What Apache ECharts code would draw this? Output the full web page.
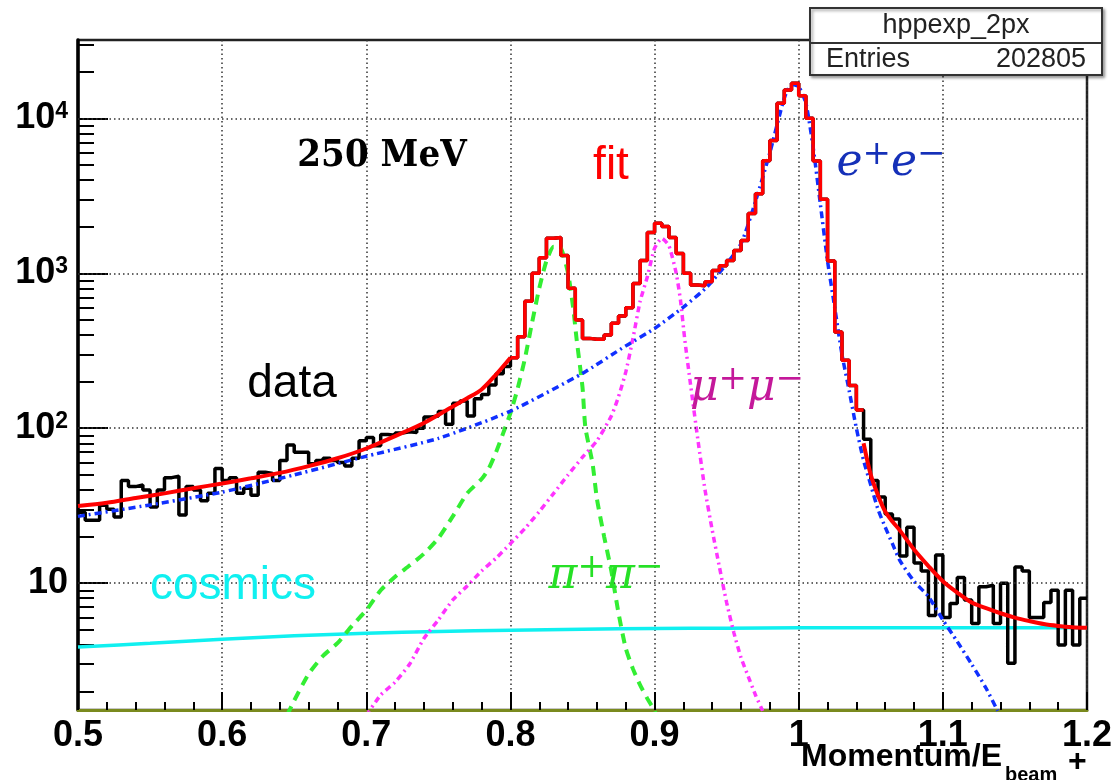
<!DOCTYPE html>
<html>
<head>
<meta charset="utf-8">
<script src="https://cdn.jsdelivr.net/npm/echarts@6/dist/echarts.min.js"></script>
<style>
  html, body { margin: 0; padding: 0; background: #fff; }
  #chart { width: 1118px; height: 780px; }
</style>
</head>
<body>
<div id="chart"></div>
<script>
// histogram: 140 bins of 0.005 from 0.5 to 1.2
const binStart = 0.5;
const binWidth = 0.005;
const counts = [
  28.7, 25.5, 25.5, 31.8, 30, 26.7, 46, 42, 43, 40, 31, 40, 48, 49, 27.5, 42,
  40, 34, 38, 55, 46, 48, 38, 41, 37, 52, 51, 46, 62, 78, 70, 70,
  59, 62, 64, 62, 60, 57, 64, 83, 87, 77, 91, 90, 93, 95, 94, 100,
  118, 120, 128, 106, 145, 150, 120, 155, 165, 190, 225, 250,
  285, 390, 660, 1000, 1260, 1680, 1700, 1300, 800, 500, 380, 375, 375, 400, 475, 530,
  600, 860, 1210, 1830, 2100, 2000, 1700, 1340, 1000, 840, 830, 880, 1040, 1120, 1210, 1400,
  1630, 2430, 3260, 5330, 7200, 12500, 15200, 16800, 14000, 10000, 5300, 3000, 1200, 418, 275, 189,
  131, 85,
  46, 36, 28, 26, 15, 23, 13.5, 12, 6.2, 15.2, 6.0, 7.4, 10.9, 7.8, 5.5, 9.5,
  9.7, 5.5, 10, 3.05, 12.7, 12, 6.0, 6.0, 7.5, 9.0, 4.0, 9.0, 4.0, 8.0
];

// fit: smooth where the analytic parts dominate, binned template in the peak region
const fitLeft = [
  [0.50, 31.5], [0.52, 33], [0.54, 35.5], [0.56, 38], [0.58, 41], [0.60, 44],
  [0.62, 47.5], [0.64, 51.5], [0.66, 57], [0.68, 64], [0.70, 74], [0.72, 89],
  [0.74, 108], [0.76, 138], [0.77, 156], [0.78, 178], [0.79, 222], [0.80, 285]
];
const fitPeakFirstBin = 60;
const fitPeakLastBin = 108;
const fitRight = [
  [1.045, 80], [1.05, 50], [1.055, 37], [1.06, 29], [1.065, 25], [1.07, 22],
  [1.08, 16.5], [1.09, 12.9], [1.10, 10.3], [1.11, 8.7], [1.12, 7.5], [1.13, 6.9],
  [1.14, 6.4], [1.15, 6.0], [1.16, 5.7], [1.17, 5.45], [1.18, 5.3], [1.19, 5.2], [1.20, 5.15]
];

const eeCurve = [
  [0.50, 27], [0.55, 32], [0.60, 38.7], [0.65, 50], [0.70, 66], [0.75, 86],
  [0.80, 129], [0.85, 226], [0.88, 340], [0.90, 440], [0.92, 605], [0.936, 810],
  [0.95, 1150], [0.96, 1550], [0.97, 2900], [0.98, 6000], [0.99, 13500], [0.995, 16500],
  [1.0, 16000], [1.005, 12500], [1.01, 6500], [1.015, 2800], [1.02, 1200], [1.025, 600],
  [1.03, 300], [1.035, 175], [1.04, 100], [1.045, 62], [1.05, 43], [1.055, 30],
  [1.06, 23], [1.065, 18], [1.07, 14.1], [1.08, 10.3], [1.09, 8.2], [1.10, 5.8],
  [1.11, 4.2], [1.12, 3.0], [1.13, 2.1], [1.138, 1.5]
];
const pipiCurve = [
  [0.645, 1.4], [0.65, 1.75], [0.66, 2.6], [0.67, 3.4], [0.68, 4.1], [0.69, 5.3],
  [0.70, 6.7], [0.71, 9.0], [0.72, 11], [0.73, 13], [0.74, 15.5], [0.75, 19.5],
  [0.76, 27], [0.77, 38], [0.78, 47], [0.785, 55], [0.79, 70], [0.795, 93],
  [0.80, 125], [0.805, 180], [0.81, 280], [0.815, 480], [0.82, 800], [0.825, 1200],
  [0.83, 1480], [0.835, 1450], [0.84, 1000], [0.8435, 600], [0.846, 370], [0.85, 184],
  [0.852, 101], [0.857, 59], [0.86, 35], [0.865, 20], [0.87, 12], [0.875, 6.4],
  [0.88, 3.8], [0.885, 2.8], [0.89, 2.2], [0.895, 1.8], [0.90, 1.5], [0.902, 1.3]
];
const mumuCurve = [
  [0.70, 1.4], [0.71, 1.9], [0.72, 2.3], [0.73, 3.0], [0.74, 4.4], [0.75, 5.8],
  [0.76, 7.8], [0.77, 9.6], [0.78, 12], [0.79, 14.5], [0.80, 18], [0.81, 22.5],
  [0.82, 29], [0.83, 38], [0.84, 50], [0.85, 65], [0.86, 83], [0.87, 120],
  [0.875, 160], [0.88, 230], [0.885, 380], [0.89, 660], [0.895, 950], [0.90, 1450],
  [0.905, 1680], [0.91, 1500], [0.915, 1000], [0.918, 667], [0.921, 370], [0.925, 190],
  [0.93, 85], [0.935, 40], [0.94, 22], [0.945, 12.7], [0.95, 7.5], [0.955, 4.8],
  [0.96, 3.3], [0.965, 2.5], [0.97, 1.9], [0.975, 1.5]
];
const cosmicsCurve = [
  [0.50, 3.87], [0.55, 4.1], [0.60, 4.35], [0.65, 4.58], [0.70, 4.75], [0.75, 4.88],
  [0.80, 4.97], [0.85, 5.05], [0.90, 5.1], [0.95, 5.13], [1.00, 5.15], [1.10, 5.15], [1.20, 5.15]
];

const yMin = 1.52;
const yMax = 32000;
const yMajor = [10, 100, 1000, 10000];
const yMinor = [2, 3, 4, 5, 6, 7, 8, 9, 20, 30, 40, 50, 60, 70, 80, 90,
  200, 300, 400, 500, 600, 700, 800, 900, 2000, 3000, 4000, 5000, 6000, 7000, 8000, 9000,
  20000, 30000];

const lg = v => Math.log10(v);
const toLog = pts => pts.map(p => [p[0], lg(p[1])]);

// histogram outline: left bin edges, closed at the right edge
const histPoints = (vals, first) => {
  const pts = vals.map((v, i) => [+(binStart + (first + i) * binWidth).toFixed(3), lg(v)]);
  pts.push([+(binStart + (first + vals.length) * binWidth).toFixed(3), lg(vals[vals.length - 1])]);
  return pts;
};

const FONT = "'Liberation Sans', Arial, sans-serif";
const MATH = "'DejaVu Serif', serif";

// italic particle label with superscript charges
const particleLabel = (x, y, glyph, color) => ({
  type: 'text', z: 50, x: x, y: y,
  style: {
    text: '{m|' + glyph + '}{s|+}{m|' + glyph + '}{s|\u2212}',
    align: 'center', verticalAlign: 'middle',
    rich: {
      m: { font: 'italic 44px ' + MATH, fill: color, verticalAlign: 'bottom' },
      s: { font: '34px ' + MATH, fill: color, verticalAlign: 'bottom', padding: [0, 0, 14, 0] }
    }
  }
});

const chart = echarts.init(document.getElementById('chart'));
chart.setOption({
  animation: false,
  backgroundColor: '#fff',
  grid: {
    left: 78, right: 31, top: 40, bottom: 70,
    show: true, borderColor: '#222', borderWidth: 2.5
  },
  xAxis: {
    type: 'value',
    min: 0.5, max: 1.2, interval: 0.1,
    axisLine: { show: true, onZero: false, lineStyle: { color: '#7a8a1e', width: 3 } },
    axisTick: { inside: true, length: 18, lineStyle: { color: '#000', width: 2 } },
    minorTick: { show: true, splitNumber: 5, length: 8, lineStyle: { color: '#000', width: 2 } },
    axisLabel: {
      margin: 8, color: '#000', fontFamily: FONT, fontWeight: 'bold', fontSize: 36,
      showMinLabel: true, showMaxLabel: true,
      formatter: v => String(+v.toFixed(2))
    },
    splitLine: { show: true, lineStyle: { color: '#333', width: 1.5, type: [1.5, 3] } }
  },
  yAxis: [
    {
      type: 'value', position: 'left',
      min: lg(yMin), max: lg(yMax),
      axisLine: { show: true, onZero: false, lineStyle: { color: '#000', width: 3.5 } },
      axisTick: { inside: true, length: 30, lineStyle: { color: '#000', width: 2 },
        customValues: yMajor.map(lg) },
      axisLabel: {
        customValues: yMajor.map(lg),
        margin: 10,
        formatter: v => {
          const e = Math.round(v);
          return e === 1 ? '{b|10}' : '{b|10}{s|' + e + '}';
        },
        rich: {
          b: { fontFamily: FONT, fontWeight: 'bold', fontSize: 36, color: '#000' },
          s: { fontFamily: FONT, fontWeight: 'bold', fontSize: 23, color: '#000', verticalAlign: 'top' }
        }
      },
      splitLine: { show: false }
    },
    {
      type: 'value', position: 'left', offset: 0,
      min: lg(yMin), max: lg(yMax),
      axisLine: { show: false, onZero: false },
      axisTick: { show: true, inside: true, length: 16, lineStyle: { color: '#000', width: 2 },
        customValues: yMinor.map(lg) },
      axisLabel: { show: false },
      splitLine: { show: false }
    }
  ],
  series: [
    {
      name: 'cosmics', type: 'line', z: 2, smooth: 0.3, showSymbol: false,
      data: toLog(cosmicsCurve),
      lineStyle: { color: '#10f0f0', width: 3.5 },
      markLine: {
        silent: true, symbol: 'none', label: { show: false },
        lineStyle: { color: '#333', width: 1.5, type: [1.5, 3] },
        data: yMajor.map(v => ({ yAxis: lg(v) }))
      }
    },
    {
      name: 'data', type: 'line', z: 3, step: 'end', showSymbol: false,
      data: histPoints(counts, 0),
      lineStyle: { color: '#000', width: 3.5 }
    },
    {
      name: 'pipi', type: 'line', z: 4, smooth: 0.2, showSymbol: false,
      data: toLog(pipiCurve),
      lineStyle: { color: '#33ee33', width: 4, type: [10, 7] }
    },
    {
      name: 'mumu', type: 'line', z: 4, smooth: 0.2, showSymbol: false,
      data: toLog(mumuCurve),
      lineStyle: { color: '#ff33ff', width: 3.5, type: [6, 4, 2, 4] }
    },
    {
      name: 'ee', type: 'line', z: 4, smooth: 0.2, showSymbol: false,
      data: toLog(eeCurve),
      lineStyle: { color: '#1030ff', width: 3.5, type: [7, 4, 2, 4] }
    },
    {
      name: 'fit', type: 'line', z: 5, smooth: 0.3, showSymbol: false,
      data: toLog(fitLeft),
      lineStyle: { color: '#ff0000', width: 4 }
    },
    {
      name: 'fit', type: 'line', z: 5, step: 'end', showSymbol: false,
      // in the peak region the fit (binned templates) follows the data bins
      data: histPoints(counts.slice(fitPeakFirstBin, fitPeakLastBin + 1), fitPeakFirstBin),
      lineStyle: { color: '#ff0000', width: 3.5 }
    },
    {
      name: 'fit', type: 'line', z: 5, smooth: 0.3, showSymbol: false,
      data: toLog(fitRight),
      lineStyle: { color: '#ff0000', width: 4 }
    }
  ],
  graphic: [
    { type: 'rect', z: 100, shape: { x: 810, y: 8, width: 292, height: 67 },
      style: { fill: '#fff', stroke: '#333', lineWidth: 2,
        shadowBlur: 3, shadowColor: 'rgba(0,0,0,0.35)', shadowOffsetX: 2, shadowOffsetY: 2 } },
    { type: 'line', z: 101, shape: { x1: 810, y1: 43, x2: 1102, y2: 43 },
      style: { stroke: '#333', lineWidth: 2 } },
    { type: 'text', z: 102, x: 956, y: 26,
      style: { text: 'hppexp_2px', font: '27px ' + FONT, fill: '#222', align: 'center', verticalAlign: 'middle' } },
    { type: 'text', z: 102, x: 826, y: 60,
      style: { text: 'Entries', font: '27px ' + FONT, fill: '#222', align: 'left', verticalAlign: 'middle' } },
    { type: 'text', z: 102, x: 1086, y: 60,
      style: { text: '202805', font: '27px ' + FONT, fill: '#222', align: 'right', verticalAlign: 'middle' } },

    { type: 'text', z: 50, x: 1002, y: 757,
      style: { text: 'Momentum/E', font: 'bold 32px ' + FONT, fill: '#000', align: 'right', verticalAlign: 'middle' } },
    { type: 'text', z: 50, x: 1005, y: 775,
      style: { text: 'beam', font: 'bold 20px ' + FONT, fill: '#000', align: 'left', verticalAlign: 'middle' } },
    { type: 'text', z: 50, x: 1068, y: 762,
      style: { text: '+', font: 'bold 32px ' + FONT, fill: '#000', align: 'left', verticalAlign: 'middle' } },

    { type: 'text', z: 50, x: 382, y: 156,
      style: { text: '250 MeV', font: "bold 38px 'DejaVu Serif Condensed', 'DejaVu Serif', serif", fill: '#000', align: 'center', verticalAlign: 'middle' } },
    { type: 'text', z: 50, x: 611, y: 166,
      style: { text: 'fit', font: '46px ' + FONT, fill: '#ff0000', align: 'center', verticalAlign: 'middle' } },
    { type: 'text', z: 50, x: 292, y: 384,
      style: { text: 'data', font: '46px ' + FONT, fill: '#000', align: 'center', verticalAlign: 'middle' } },
    { type: 'text', z: 50, x: 233, y: 586,
      style: { text: 'cosmics', font: '46px ' + FONT, fill: '#10f0f0', align: 'center', verticalAlign: 'middle' } },
    particleLabel(891, 162, 'e', '#1530b8'),
    particleLabel(747, 387, '\u03bc', '#c4189a'),
    particleLabel(606, 575, '\u03c0', '#26e026')
  ]
});
</script>
</body>
</html>
